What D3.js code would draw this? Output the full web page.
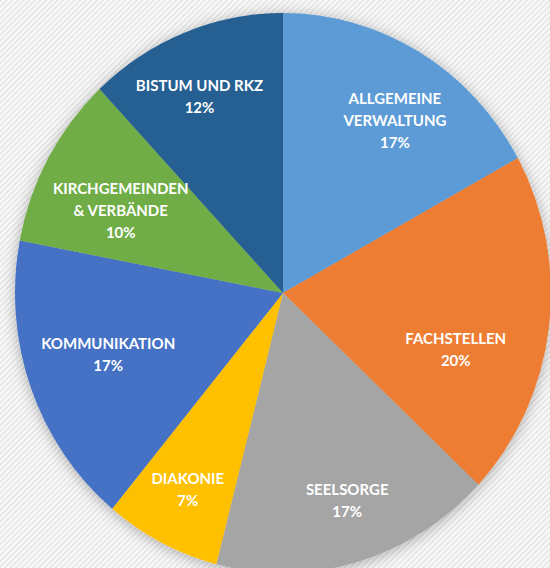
<!DOCTYPE html>
<html><head><meta charset="utf-8">
<script src="https://cdn.jsdelivr.net/npm/d3@7/dist/d3.min.js"></script>
<style>html,body{margin:0;padding:0;background:#fff;overflow:hidden}</style>
</head><body>
<svg id="c" width="550" height="568"></svg>
<script>
const categories = ["ALLGEMEINE VERWALTUNG","FACHSTELLEN","SEELSORGE","DIAKONIE","KOMMUNIKATION","KIRCHGEMEINDEN & VERBÄNDE","BISTUM UND RKZ"];
const labelLines = [["ALLGEMEINE","VERWALTUNG"],["FACHSTELLEN"],["SEELSORGE"],["DIAKONIE"],["KOMMUNIKATION"],["KIRCHGEMEINDEN","& VERBÄNDE"],["BISTUM UND RKZ"]];
const values = [17, 20, 17, 7, 17, 10, 12];
const colors = ["#5B9BD5","#ED7D31","#A5A5A5","#FFC000","#4472C4","#70AD47","#255E91"];

const W = 550, H = 568;
const cx = 283, cy = 293, rx = 268, ry = 280;
// best-fit label nudges (Excel-like placement), relative to the slice centroid
const labelNudge = [[13,2],[-20,31],[10,13],[-7,16],[8,-7],[8,16],[-12,-8]];

const svg = d3.select("#c");
const defs = svg.append("defs");
const pat = defs.append("pattern").attr("id","bg").attr("patternUnits","userSpaceOnUse")
  .attr("width",4).attr("height",4).attr("patternTransform","rotate(45)");
pat.append("rect").attr("width",4).attr("height",4).attr("fill","#fafafa");
pat.append("rect").attr("width",1.6).attr("height",4).attr("fill","#e4e4e4");
const f = defs.append("filter").attr("id","sh").attr("x","-20%").attr("y","-20%").attr("width","140%").attr("height","140%");
f.append("feDropShadow").attr("dx",0).attr("dy",2).attr("stdDeviation",7).attr("flood-color","#000").attr("flood-opacity",0.3);

svg.append("rect").attr("width",W).attr("height",H).attr("fill","url(#bg)");

const pie = d3.pie().sort(null).value(d => d)(values);
const arc = d3.arc().innerRadius(0).outerRadius(ry);
const g = svg.append("g").attr("transform",`translate(${cx},${cy}) scale(${rx/ry},1)`);
const gs = g.append("g").attr("filter","url(#sh)");
gs.selectAll("path").data(pie).join("path")
  .attr("d", arc).attr("fill",(d,i)=>colors[i]);

const labelArc = d3.arc().innerRadius(ry*0.45).outerRadius(ry);
const lg = svg.append("g").attr("transform",`translate(${cx},${cy})`);
const total = d3.sum(values);
pie.forEach((d,i)=>{
  const c = labelArc.centroid(d);
  const lines = labelLines[i].concat([Math.round(values[i]/total*100)+"%"]);
  const lh = 22;
  const x = c[0]*rx/ry + labelNudge[i][0];
  const y0 = c[1] - (lines.length-1)/2*lh + labelNudge[i][1];
  const t = lg.append("text").attr("text-anchor","middle")
    .attr("font-family","Lato, 'Open Sans', sans-serif").attr("font-weight","bold")
    .attr("font-size",15).attr("fill","#fff");
  lines.forEach((s,k)=>{
    t.append("tspan").attr("x",x).attr("y", y0 + k*lh).attr("dy","0.35em").text(s);
  });
});
</script>
</body></html>
